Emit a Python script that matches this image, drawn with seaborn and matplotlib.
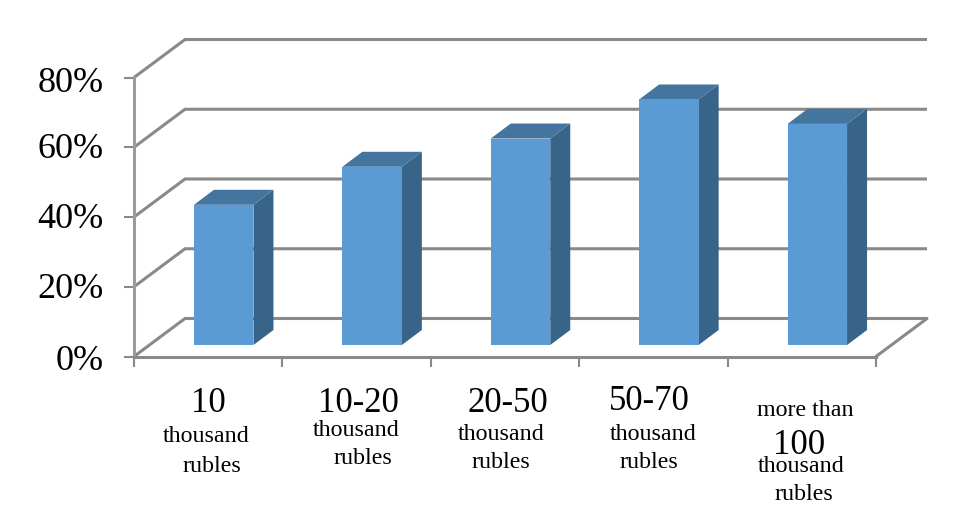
import matplotlib
matplotlib.use("Agg")
import matplotlib.pyplot as plt
import matplotlib.transforms as mtrans
from matplotlib.patches import Polygon
import numpy as np
import pandas as pd
import seaborn as sns

categories = ["10", "10-20", "20-50", "50-70", "more than 100"]
values = [40.2, 51.1, 59.2, 70.4, 63.4]
y_ticks = [0, 20, 40, 60, 80]
y_labels = ["0%", "20%", "40%", "60%", "80%"]

# category captions: (text, font size, x pixel, y pixel)
captions = [
    ("10", 25, 208, 403), ("thousand", 17.3, 206, 437), ("rubles", 17.3, 212, 466),
    ("10-20", 25, 358, 403), ("thousand", 17.3, 356, 431), ("rubles", 17.3, 363, 459),
    ("20-50", 25, 508, 403), ("thousand", 17.3, 501, 435), ("rubles", 17.3, 501, 463),
    ("50-70", 25, 649, 402), ("thousand", 17.3, 653, 434), ("rubles", 17.3, 649, 463),
    ("more than", 17.3, 805, 411), ("100", 25, 799, 445),
    ("thousand", 17.3, 801, 466), ("rubles", 17.3, 804, 494),
]
# pixel nudges of the y tick labels relative to their ticks (+ = up)
label_nudge = [-0.5, 1, 1, 2, -2]

W, H = 977, 523
LEFT, RIGHT, BOTTOM, TOP = 134, 876, 356.5, 77.5
FRONT, SIDE, ROOF = "#5B9BD5", "#386489", "#44759F"
LINE = "#898989"

sns.set_theme(style="white")
plt.rcParams["font.family"] = ["Liberation Serif", "DejaVu Serif"]

fig = plt.figure(figsize=(W / 100, H / 100), dpi=100, facecolor="white")
ax = fig.add_axes([LEFT / W, 1 - BOTTOM / H, (RIGHT - LEFT) / W, (BOTTOM - TOP) / H])

df = pd.DataFrame({"income": categories, "share": values})
sns.barplot(data=df, x="income", y="share", color=FRONT, saturation=1,
            width=0.401, ax=ax, zorder=4, linewidth=0, edgecolor="none")
ax.set_xlim(-0.5, 4.5)
ax.set_ylim(0, 80)
ax.set_xlabel("")
ax.set_ylabel("")

DX = 5 / (RIGHT - LEFT)          # data units per pixel, horizontally
DY = 80 / (BOTTOM - TOP)         # data units per pixel, vertically

# back wall and floor lines
bx, by = 51 * DX, 38 * DY
lw = 2.2
for t in y_ticks:
    ax.plot([-0.5, -0.5 + bx, 4.5 + bx], [t, t + by, t + by], color=LINE, lw=lw,
            clip_on=False, zorder=1, solid_capstyle="butt", solid_joinstyle="miter")
ax.plot([4.5, 4.5 + bx], [0, by], color=LINE, lw=lw, clip_on=False, zorder=1)

# the bars: shift fronts onto the floor, add side and roof faces
sx, sy = 15.5 * DX, 11.5 * DY
dx, dy = 20 * DX, 15 * DY
for p in ax.patches[:len(values)]:
    x0 = p.get_x() + sx
    y0 = p.get_y() + sy
    p.set_x(x0)
    p.set_y(y0)
    p.set_clip_on(False)
    w, h = p.get_width(), p.get_height()
    ax.add_patch(Polygon([(x0 + w, y0), (x0 + w + dx, y0 + dy),
                          (x0 + w + dx, y0 + h + dy), (x0 + w, y0 + h)],
                         fc=SIDE, ec="none", zorder=3, clip_on=False))
    ax.add_patch(Polygon([(x0, y0 + h), (x0 + dx, y0 + h + dy),
                          (x0 + w + dx, y0 + h + dy), (x0 + w, y0 + h)],
                         fc=ROOF, ec="none", zorder=3, clip_on=False))

sns.despine(ax=ax)
for s in ("left", "bottom"):
    ax.spines[s].set_color(LINE)
    ax.spines[s].set_linewidth(lw)
ax.spines["left"].set_color("#9C9C9C")

ax.set_xticks(np.arange(-0.5, 5, 1), labels=[""] * 6)
ax.set_yticks(y_ticks, labels=y_labels)
ax.tick_params(axis="both", length=7.5, width=1.5, color=LINE, left=True, bottom=True)
ax.tick_params(axis="y", labelsize=26, pad=14.5, labelcolor="black")
for lab, n in zip(ax.get_yticklabels(), label_nudge):
    lab.set_transform(lab.get_transform() + mtrans.Affine2D().translate(0, n))

for text, size, px, py in captions:
    fig.text(px / W, 1 - py / H, text, fontsize=size, ha="center", va="center",
             color="black")

fig.savefig("out.png", dpi=100, facecolor="white")
